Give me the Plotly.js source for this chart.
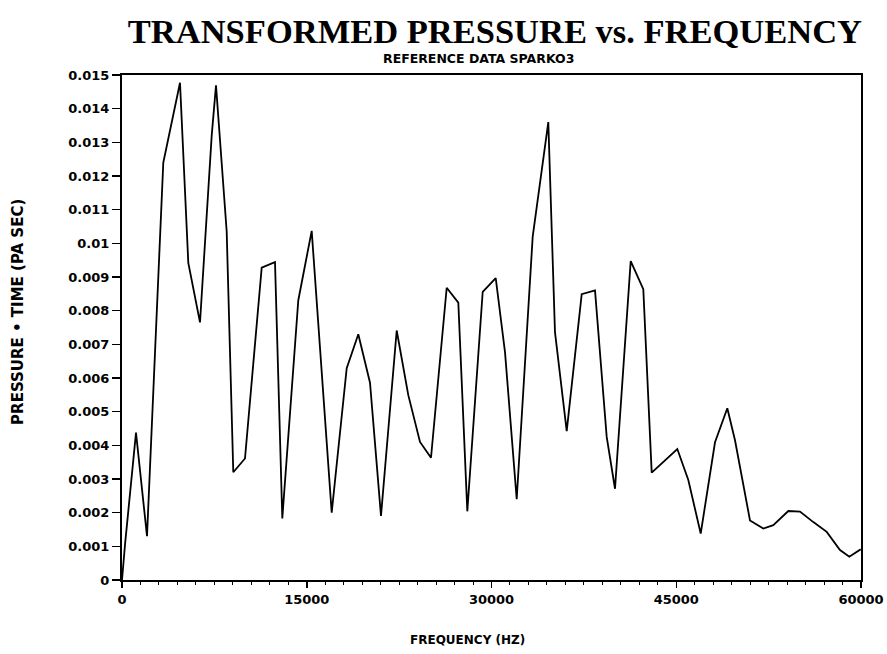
<!DOCTYPE html>
<html>
<head>
<meta charset="utf-8">
<script src="https://cdn.plot.ly/plotly-3.0.1.min.js"></script>
<style>html,body{margin:0;padding:0;background:#fff;}#chart{width:887px;height:654px;}</style>
</head>
<body>
<div id="chart"></div>
<script>
// Frequency (Hz)
const frequency = [0, 244, 1137, 2030, 3353, 3678, 4709, 5383, 6333, 7283, 7632, 8500, 9036, 9986,
  11342, 12422, 13015, 14314, 15402, 17026, 18244, 19185, 20135, 21028, 22303, 23245, 24195, 25088,
  26363, 27305, 28036, 29286, 30342, 31096, 32046, 33345, 34612, 35154, 36106, 37324, 38404, 39353,
  40027, 41302, 42325, 43007, 45086, 45979, 46986, 48147, 49146, 49770, 50988, 52068, 52880, 54098,
  55048, 56130, 57217, 58296, 59051, 59976];
// Pressure * time (Pa sec)
const pressureTime = [0, 0.00105, 0.00438, 0.00130, 0.01240, 0.01295, 0.01477, 0.00942, 0.00765, 0.01320,
  0.01469, 0.01035, 0.00320, 0.00361, 0.00928, 0.00944, 0.00183, 0.00831, 0.01037, 0.00200, 0.00629,
  0.00730, 0.00586, 0.00190, 0.00741, 0.00549, 0.00410, 0.00363, 0.00868, 0.00824, 0.00204, 0.00856,
  0.00897, 0.00677, 0.00240, 0.01020, 0.01360, 0.00736, 0.00442, 0.00849, 0.00860, 0.00425, 0.00271,
  0.00947, 0.00864, 0.00319, 0.00389, 0.00297, 0.00138, 0.00409, 0.00510, 0.00415, 0.00177, 0.00153,
  0.00163, 0.00205, 0.00203, 0.00172, 0.00143, 0.00089, 0.00069, 0.00091];

const yTickVals = [0, 0.001, 0.002, 0.003, 0.004, 0.005, 0.006, 0.007, 0.008, 0.009, 0.01, 0.011, 0.012, 0.013, 0.014, 0.015];
const yTickText = ['0', '0.001', '0.002', '0.003', '0.004', '0.005', '0.006', '0.007', '0.008', '0.009', '0.01', '0.011', '0.012', '0.013', '0.014', '0.015'];
const xTickVals = [0, 15000, 30000, 45000, 60000];
const xTickText = ['0', '15000', '30000', '45000', '60000'];

const labelFont = {family: 'DejaVu Sans', size: 13, color: '#000', weight: 'bold'};

const trace = {
  x: frequency,
  y: pressureTime,
  type: 'scatter',
  mode: 'lines',
  line: {color: '#000', width: 1.8},
  hoverinfo: 'x+y'
};

const layout = {
  width: 887,
  height: 654,
  paper_bgcolor: '#fff',
  plot_bgcolor: '#fff',
  showlegend: false,
  margin: {l: 122, r: 26, t: 75, b: 74},
  title: {
    text: 'TRANSFORMED PRESSURE vs. FREQUENCY',
    font: {family: 'Liberation Serif', size: 34.5, color: '#000', weight: 'bold'},
    xref: 'container', x: 0.558, xanchor: 'center',
    yref: 'container', y: 0.953, yanchor: 'middle'
  },
  xaxis: {
    range: [0, 60000],
    tickvals: xTickVals,
    ticktext: xTickText,
    ticks: 'outside',
    ticklen: 6,
    tickwidth: 1.5,
    tickcolor: '#000',
    minor: {dtick: 1500, ticks: 'outside', ticklen: 3, tickcolor: '#000', tickwidth: 1},
    showgrid: false,
    zeroline: false,
    showline: true,
    linecolor: '#000',
    linewidth: 2,
    mirror: true,
    tickfont: labelFont,
    fixedrange: true
  },
  yaxis: {
    range: [0, 0.015],
    tickvals: yTickVals,
    ticktext: yTickText,
    ticks: 'outside',
    ticklen: 8,
    tickwidth: 1.5,
    tickcolor: '#000',
    showgrid: false,
    zeroline: false,
    showline: true,
    linecolor: '#000',
    linewidth: 2,
    mirror: true,
    tickfont: labelFont,
    fixedrange: true
  },
  annotations: [
    {
      text: 'REFERENCE DATA SPARKO3',
      xref: 'paper', yref: 'paper', x: 0.483, y: 1.032,
      xanchor: 'center', yanchor: 'middle', showarrow: false,
      font: {family: 'DejaVu Sans', size: 12.5, color: '#000', weight: 'bold'}
    },
    {
      text: 'FREQUENCY (HZ)',
      xref: 'paper', yref: 'paper', x: 0.468, y: -0.118,
      xanchor: 'center', yanchor: 'middle', showarrow: false,
      font: {family: 'DejaVu Sans', size: 12, color: '#000', weight: 'bold'}
    },
    {
      text: 'PRESSURE • TIME (PA SEC)',
      xref: 'paper', yref: 'paper', x: -0.14, y: 0.53,
      xanchor: 'center', yanchor: 'middle', showarrow: false, textangle: -90,
      font: {family: 'DejaVu Sans', size: 15, color: '#000', weight: 'bold'}
    }
  ]
};

Plotly.newPlot('chart', [trace], layout, {displayModeBar: false, staticPlot: true});
</script>
</body>
</html>
